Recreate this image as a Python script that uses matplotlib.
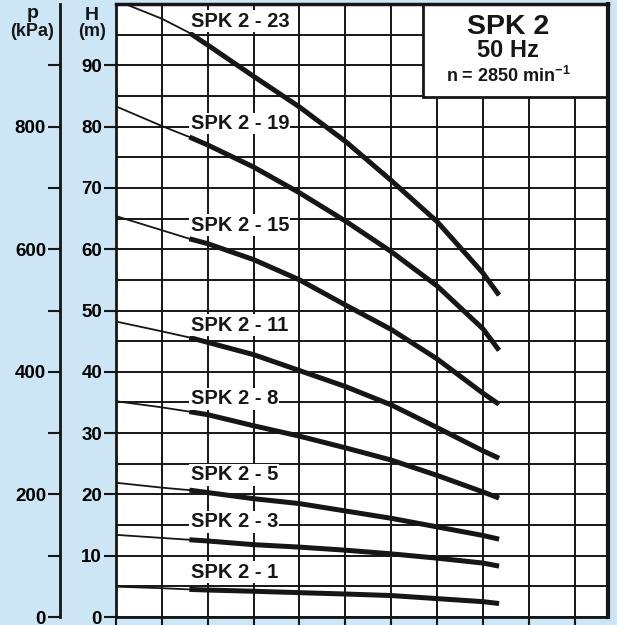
import matplotlib.pyplot as plt
import numpy as np
from matplotlib.patches import Rectangle

plt.rcParams['font.family'] = ['Liberation Sans', 'DejaVu Sans']
plt.rcParams['font.weight'] = 'bold'
plt.rcParams['mathtext.fontset'] = 'custom'
plt.rcParams['mathtext.rm'] = 'Liberation Sans:bold'
plt.rcParams['mathtext.bf'] = 'Liberation Sans:bold'

flow = [0, 0.4, 0.64, 0.8, 1.2, 1.6, 2.0, 2.4, 2.8, 3.2, 3.34]

models = ['SPK 2 - 23', 'SPK 2 - 19', 'SPK 2 - 15', 'SPK 2 - 11',
          'SPK 2 - 8', 'SPK 2 - 5', 'SPK 2 - 3', 'SPK 2 - 1']

# Head H (m) for each model.
head_23 = [100.6, 97.6, 95.3, 93.3, 88.2, 83.2, 77.6, 71.2, 64.5, 56.1, 52.5]
head_19 = [83.3, 80.1, 78.3, 77.0, 73.4, 69.2, 64.6, 59.6, 54.0, 47.0, 43.5]
head_15 = [65.4, 63.1, 61.7, 60.9, 58.3, 55.0, 50.9, 46.9, 42.1, 36.5, 34.7]
head_11 = [48.2, 46.6, 45.6, 44.8, 42.8, 40.2, 37.6, 34.6, 30.9, 27.1, 25.9]
head_8 = [35.2, 34.2, 33.5, 33.0, 31.2, 29.5, 27.6, 25.6, 23.1, 20.4, 19.4]
head_5 = [21.9, 21.1, 20.7, 20.3, 19.3, 18.5, 17.3, 16.1, 14.7, 13.3, 12.7]
head_3 = [13.4, 12.9, 12.6, 12.4, 11.8, 11.4, 10.9, 10.3, 9.6, 8.8, 8.3]
head_1 = [4.95, 4.7, 4.5, 4.4, 4.2, 3.97, 3.75, 3.5, 3.0, 2.5, 2.2]
heads = [head_23, head_19, head_15, head_11, head_8, head_5, head_3, head_1]

# Where each model name sits (H, m).
label_h = [97.2, 80.5, 63.9, 47.6, 35.6, 23.2, 15.5, 7.3]

ink = '#161616'
bg = '#cce6f5'

fig = plt.figure(figsize=(6.17, 6.25), dpi=100, facecolor=bg)
W, H = 617.0, 625.0
ax = fig.add_axes([116 / W, 8 / H, 492 / W, 613 / H])
ax.set_facecolor('white')
ax.set_xlim(0, 4.29)
ax.set_ylim(0, 100)

# Grid: every 0.4 m3/h and every 5 m.
ax.set_xticks(np.arange(0, 4.01, 0.4))
ax.set_yticks(np.arange(0, 91, 10))
ax.set_yticks(np.arange(5, 100, 10), minor=True)
ax.grid(True, which='both', color=ink, lw=1.4)
ax.set_axisbelow(True)
ax.tick_params(axis='x', direction='out', length=6, width=1.5, color=ink,
               labelbottom=False)
ax.tick_params(axis='y', which='major', direction='out', length=9, width=1.5,
               color=ink, labelsize=13.5, pad=1)
ax.tick_params(axis='y', which='minor', length=0)
for side, lw in [('left', 2), ('bottom', 2), ('top', 2.5), ('right', 3)]:
    ax.spines[side].set_linewidth(lw)
    ax.spines[side].set_color(ink)
    ax.spines[side].set_zorder(7)

# Pressure scale, p = 10 * H.
sec = ax.secondary_yaxis(-56 / 492, functions=(lambda h: h * 10, lambda p: p / 10))
p_ticks = np.arange(0, 1000, 100)
sec.set_yticks(p_ticks, labels=[str(v) if v % 200 == 0 else '' for v in p_ticks])
sec.tick_params(direction='out', length=9, width=1.5, color=ink, labelsize=13.5, pad=1)
sec.spines['left'].set_linewidth(2)
sec.spines['left'].set_color(ink)

# Curves: thin at low flow, heavy across the working range.
for name, h, lh in zip(models, heads, label_h):
    ax.plot(flow, h, color=ink, lw=1.3, solid_capstyle='butt', zorder=3)
    ax.plot(flow[2:], h[2:], color=ink, lw=3.6, solid_capstyle='butt', zorder=3)
    ax.text(0.65, lh, name, fontsize=14.5, ha='left', va='center', color=ink,
            bbox=dict(facecolor='white', edgecolor='none', pad=1.0), zorder=4)

# Title box in the top right corner.
ax.add_patch(Rectangle((0.624, 0.848), 0.376, 0.152, transform=ax.transAxes,
                       facecolor='white', edgecolor=ink, lw=2, zorder=5, clip_on=False))
box_tr = ax.get_yaxis_transform()
ax.text(0.797, 96.2, 'SPK 2', fontsize=20.5, ha='center', va='center', color=ink,
        zorder=6, transform=box_tr)
ax.text(0.797, 92.4, '50 Hz', fontsize=17, ha='center', va='center', color=ink,
        zorder=6, transform=box_tr)
ax.text(0.797, 88.2, r'n = 2850 min$^{\mathbf{-1}}$', fontsize=13, ha='center',
        va='center', color=ink, zorder=6, transform=box_tr)

# Axis headings.
for x, y, s, fs in [(33, 14, 'p', 14), (32, 31, '(kPa)', 13),
                    (92, 15, 'H', 14), (92, 31, '(m)', 13)]:
    fig.text(x / W, 1 - y / H, s, fontsize=fs, ha='center', va='center', color=ink)

fig.savefig('out.png', dpi=100, facecolor=bg)
